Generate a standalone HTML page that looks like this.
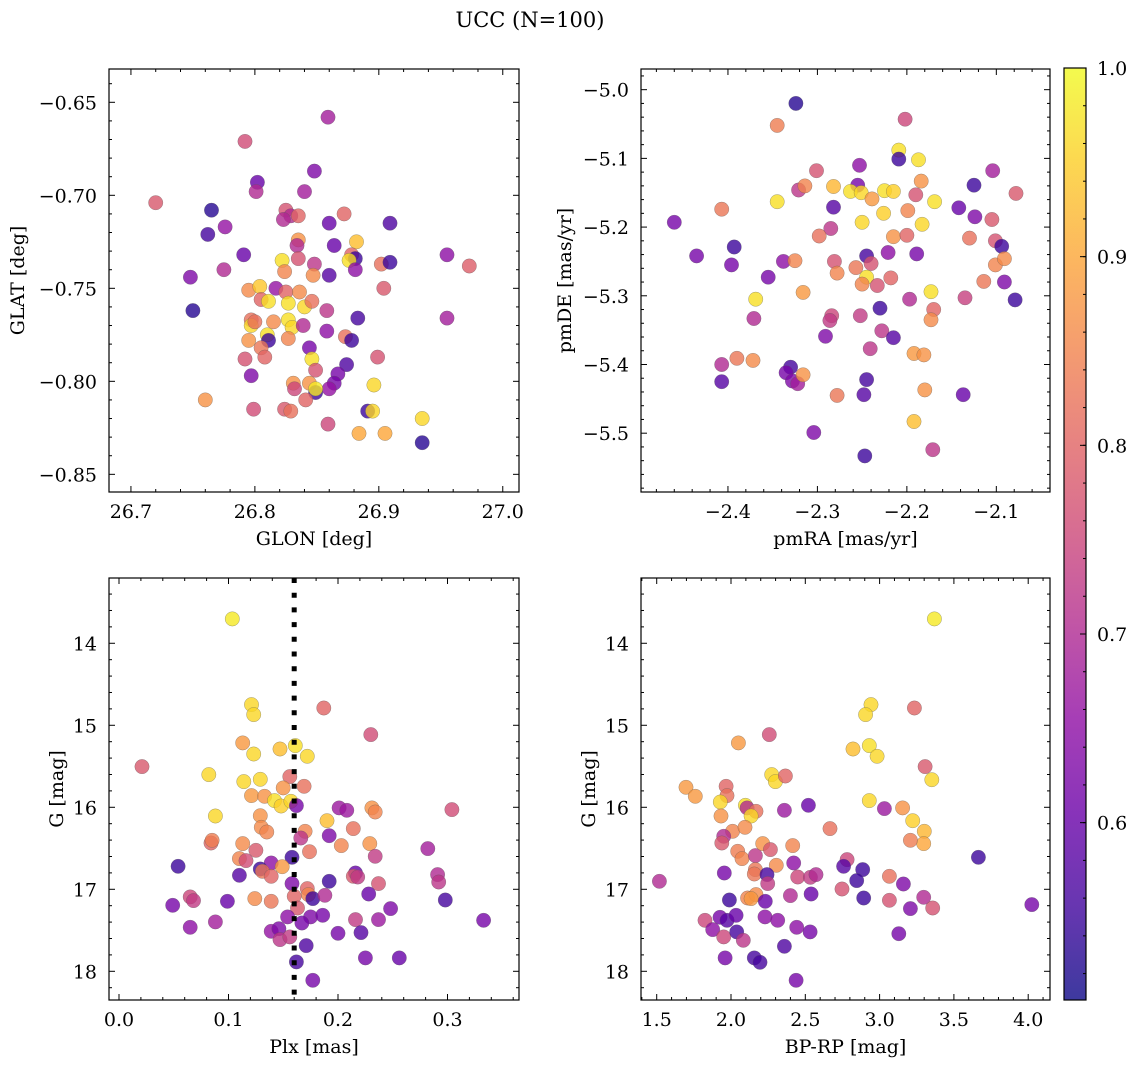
<!DOCTYPE html>
<html><head><meta charset="utf-8"><style>
body{margin:0;background:#fff;}
svg{display:block;font-family:"DejaVu Serif","Liberation Serif",serif;font-stretch:normal;}
</style></head><body>
<svg id="fig" width="1136" height="1068" viewBox="0 0 1136 1068" xmlns="http://www.w3.org/2000/svg">
<rect width="1136" height="1068" fill="#fff"/>
<text x="530" y="27" font-size="21" text-anchor="middle">UCC (N=100)</text>
</svg>
<script>
// ---- Panel 1: GLON vs GLAT ----
const glon=[26.859,26.792,26.848,26.802,26.801,26.840,26.720,26.765,26.825,26.829,26.835,26.823,26.872,26.776,26.860,26.909,26.762,26.835,26.834,26.864,26.882,26.791,26.835,26.878,26.881,26.822,26.876,26.955,26.973,26.748,26.775,26.824,26.848,26.847,26.860,26.881,26.902,26.909,26.904,26.795,26.804,26.817,26.825,26.836,26.805,26.811,26.827,26.840,26.846,26.750,26.858,26.883,26.955,26.797,26.797,26.800,26.815,26.827,26.830,26.839,26.810,26.811,26.795,26.805,26.827,26.858,26.873,26.878,26.844,26.808,26.792,26.846,26.874,26.899,26.867,26.849,26.797,26.864,26.860,26.831,26.832,26.844,26.849,26.849,26.841,26.760,26.896,26.799,26.824,26.829,26.859,26.891,26.895,26.884,26.905,26.935,26.935];
const glat=[-0.658,-0.671,-0.687,-0.693,-0.698,-0.698,-0.704,-0.708,-0.708,-0.711,-0.711,-0.713,-0.710,-0.717,-0.715,-0.715,-0.721,-0.724,-0.727,-0.727,-0.725,-0.732,-0.734,-0.732,-0.734,-0.735,-0.735,-0.732,-0.738,-0.744,-0.740,-0.741,-0.737,-0.743,-0.743,-0.740,-0.737,-0.736,-0.750,-0.751,-0.749,-0.750,-0.752,-0.752,-0.756,-0.757,-0.758,-0.760,-0.757,-0.762,-0.762,-0.766,-0.766,-0.767,-0.770,-0.768,-0.768,-0.767,-0.771,-0.770,-0.775,-0.778,-0.778,-0.782,-0.777,-0.773,-0.776,-0.778,-0.782,-0.787,-0.788,-0.788,-0.791,-0.787,-0.796,-0.794,-0.797,-0.801,-0.804,-0.801,-0.804,-0.801,-0.806,-0.804,-0.810,-0.810,-0.802,-0.815,-0.815,-0.816,-0.823,-0.816,-0.816,-0.828,-0.828,-0.820,-0.833];
const probPos=[.68,.76,.63,.60,.70,.68,.78,.53,.77,.70,.80,.70,.80,.66,.60,.57,.56,.87,.70,.60,.93,.60,.77,.80,.55,.97,.97,.65,.79,.63,.70,.85,.72,.86,.58,.65,.82,.55,.78,.86,.94,.66,.80,.86,.80,.97,.97,.96,.82,.53,.72,.56,.68,.82,.96,.82,.86,.97,.96,.70,.97,.55,.87,.83,.85,.65,.82,.55,.62,.80,.77,.97,.57,.77,.62,.77,.63,.62,.66,.87,.75,.87,.55,.98,.80,.87,.96,.76,.78,.82,.75,.55,.96,.90,.90,.96,.53];
// ---- Panel 2: pmRA vs pmDE ----
const pmra=[-2.324,-2.345,-2.202,-2.209,-2.209,-2.187,-2.253,-2.301,-2.104,-2.125,-2.184,-2.321,-2.314,-2.282,-2.255,-2.263,-2.251,-2.225,-2.215,-2.239,-2.190,-2.078,-2.345,-2.169,-2.407,-2.282,-2.142,-2.199,-2.226,-2.124,-2.460,-2.250,-2.183,-2.105,-2.285,-2.298,-2.215,-2.200,-2.130,-2.101,-2.094,-2.393,-2.435,-2.245,-2.221,-2.189,-2.396,-2.338,-2.325,-2.281,-2.240,-2.257,-2.278,-2.101,-2.091,-2.355,-2.245,-2.250,-2.233,-2.218,-2.114,-2.091,-2.369,-2.316,-2.173,-2.197,-2.135,-2.079,-2.230,-2.170,-2.173,-2.371,-2.284,-2.286,-2.252,-2.228,-2.215,-2.291,-2.241,-2.192,-2.181,-2.407,-2.390,-2.372,-2.330,-2.335,-2.328,-2.322,-2.316,-2.407,-2.245,-2.248,-2.278,-2.180,-2.137,-2.192,-2.304,-2.247,-2.171];
const pmde=[-5.020,-5.052,-5.043,-5.088,-5.101,-5.102,-5.110,-5.118,-5.118,-5.139,-5.133,-5.146,-5.140,-5.141,-5.139,-5.148,-5.150,-5.147,-5.148,-5.159,-5.153,-5.151,-5.163,-5.163,-5.174,-5.171,-5.172,-5.176,-5.180,-5.185,-5.193,-5.193,-5.196,-5.189,-5.202,-5.213,-5.214,-5.212,-5.216,-5.220,-5.228,-5.229,-5.242,-5.242,-5.237,-5.239,-5.255,-5.250,-5.249,-5.250,-5.253,-5.259,-5.267,-5.255,-5.246,-5.273,-5.273,-5.283,-5.285,-5.274,-5.279,-5.280,-5.305,-5.295,-5.294,-5.305,-5.303,-5.306,-5.318,-5.320,-5.335,-5.333,-5.329,-5.336,-5.329,-5.351,-5.361,-5.359,-5.377,-5.384,-5.386,-5.400,-5.391,-5.394,-5.404,-5.412,-5.424,-5.428,-5.415,-5.425,-5.422,-5.444,-5.445,-5.437,-5.444,-5.483,-5.499,-5.533,-5.524];
const probPm=[.53,.84,.75,.97,.55,.97,.65,.77,.68,.55,.87,.72,.85,.92,.62,.97,.96,.97,.95,.88,.77,.78,.97,.97,.83,.58,.60,.85,.95,.63,.62,.96,.96,.78,.72,.82,.87,.80,.82,.77,.55,.55,.62,.56,.65,.62,.62,.65,.85,.77,.77,.83,.85,.85,.86,.62,.97,.85,.77,.80,.83,.63,.97,.88,.97,.70,.74,.55,.55,.80,.86,.70,.75,.73,.73,.72,.58,.63,.72,.88,.87,.70,.83,.86,.56,.62,.63,.68,.87,.58,.56,.58,.83,.87,.60,.93,.63,.55,.72];
// ---- Panel 3: Plx vs G ----
const plx=[0.1035,0.121,0.123,0.187,0.230,0.113,0.147,0.161,0.123,0.172,0.021,0.082,0.156,0.114,0.129,0.150,0.169,0.121,0.133,0.142,0.148,0.157,0.162,0.201,0.208,0.231,0.234,0.304,0.088,0.129,0.190,0.130,0.135,0.170,0.166,0.214,0.192,0.084,0.085,0.113,0.203,0.229,0.174,0.125,0.234,0.282,0.110,0.116,0.139,0.158,0.054,0.149,0.129,0.131,0.139,0.110,0.216,0.214,0.218,0.291,0.292,0.192,0.158,0.237,0.172,0.173,0.177,0.188,0.228,0.065,0.068,0.124,0.139,0.160,0.049,0.099,0.163,0.298,0.248,0.154,0.175,0.186,0.167,0.216,0.237,0.333,0.088,0.065,0.139,0.146,0.147,0.156,0.200,0.221,0.171,0.162,0.225,0.256,0.177];
const gPlx=[13.703,14.748,14.870,14.789,15.114,15.215,15.289,15.248,15.350,15.378,15.504,15.602,15.626,15.687,15.659,15.764,15.744,15.858,15.866,15.919,15.984,15.927,15.980,16.008,16.037,16.008,16.057,16.028,16.106,16.102,16.163,16.244,16.301,16.293,16.374,16.260,16.346,16.435,16.402,16.443,16.467,16.443,16.541,16.524,16.598,16.504,16.626,16.650,16.679,16.610,16.720,16.724,16.752,16.780,16.841,16.829,16.801,16.841,16.850,16.821,16.911,16.902,16.931,16.931,16.992,17.065,17.114,17.073,17.057,17.093,17.138,17.114,17.146,17.085,17.195,17.146,17.228,17.130,17.236,17.337,17.337,17.317,17.411,17.370,17.370,17.378,17.398,17.463,17.512,17.480,17.614,17.581,17.537,17.528,17.687,17.886,17.837,17.837,18.110];
const probPlx=[.98,.96,.96,.80,.76,.88,.93,.97,.96,.96,.78,.96,.80,.96,.96,.87,.82,.88,.87,.97,.95,.96,.62,.67,.67,.87,.85,.76,.96,.87,.93,.86,.85,.85,.72,.82,.63,.80,.84,.86,.85,.87,.82,.78,.73,.68,.85,.76,.65,.55,.55,.88,.55,.83,.80,.58,.60,.78,.73,.70,.72,.55,.63,.77,.80,.85,.55,.70,.60,.75,.73,.86,.83,.80,.62,.60,.78,.56,.63,.65,.63,.62,.62,.73,.67,.62,.68,.65,.66,.63,.72,.73,.62,.58,.57,.56,.62,.60,.62];
const plxLine=[0.16];
// ---- Panel 4: BP-RP vs G ----
const bprp=[3.369,2.942,2.906,3.234,2.258,2.050,2.821,2.931,2.983,3.306,3.351,1.697,1.760,1.967,1.973,1.928,2.274,2.299,2.366,2.097,2.108,2.168,2.135,1.933,2.359,2.521,2.931,3.032,3.155,3.223,3.301,3.297,3.207,2.666,2.011,2.094,1.951,1.938,2.045,2.074,2.164,2.213,2.265,2.415,2.305,2.422,2.781,2.758,2.886,2.846,3.665,1.518,1.955,2.164,2.157,2.242,2.247,2.449,2.534,2.572,3.066,3.160,2.747,2.112,2.168,2.135,1.989,2.231,2.400,2.539,2.893,3.066,3.297,3.357,3.207,4.024,1.825,1.926,1.973,2.034,1.877,1.951,2.038,2.083,2.229,2.314,2.442,2.532,3.129,2.359,1.960,2.157,2.195,2.438];
const gCmd=[13.703,14.748,14.870,14.789,15.114,15.215,15.289,15.248,15.378,15.504,15.663,15.756,15.866,15.744,15.858,15.935,15.602,15.687,15.618,15.976,16.008,16.049,16.106,16.106,16.037,15.976,15.919,16.016,16.008,16.163,16.293,16.443,16.402,16.260,16.293,16.244,16.354,16.435,16.537,16.626,16.589,16.443,16.516,16.467,16.707,16.679,16.638,16.720,16.760,16.894,16.610,16.902,16.801,16.760,16.813,16.821,16.931,16.850,16.854,16.821,16.841,16.935,16.996,17.106,17.065,17.114,17.130,17.146,17.077,17.057,17.106,17.134,17.098,17.228,17.236,17.187,17.378,17.341,17.378,17.317,17.492,17.581,17.520,17.622,17.337,17.378,17.463,17.520,17.541,17.695,17.837,17.837,17.890,18.110];
const probCmd=[.98,.96,.96,.80,.76,.88,.93,.97,.96,.78,.96,.88,.88,.80,.82,.96,.96,.96,.80,.97,.70,.82,.96,.87,.67,.60,.96,.67,.87,.95,.92,.90,.84,.82,.85,.86,.70,.78,.84,.85,.72,.87,.78,.85,.86,.65,.75,.58,.55,.55,.55,.70,.62,.83,.83,.56,.73,.75,.73,.70,.82,.63,.77,.85,.86,.88,.55,.60,.70,.60,.55,.77,.70,.77,.63,.62,.75,.62,.58,.60,.65,.75,.56,.72,.65,.65,.65,.62,.62,.57,.62,.56,.56,.62];
// ---- Colorbar ----
const cbTicks=[0.6,0.7,0.8,0.9,1.0];
const cbLabels=["0.6","0.7","0.8","0.9","1.0"];

const NS="http://www.w3.org/2000/svg";
const svg=document.getElementById('fig');
const VMIN=0.506,VMAX=1.0;
const FS=19;
const stops=["#0d0887","#41049d","#6a00a8","#8f0da4","#b12a90","#cc4778","#e16462","#f2844b","#fca636","#fcce25","#f0f921"];
function hex(h){return [1,3,5].map(i=>parseInt(h.substr(i,2),16));}
function plasma(t){t=Math.max(0,Math.min(1,t));const s=t*10,i=Math.min(9,Math.floor(s)),f=s-i;const a=hex(stops[i]),b=hex(stops[i+1]);return 'rgb('+a.map((v,k)=>Math.round(v+(b[k]-v)*f)).join(',')+')';}
function col(p){return plasma((p-VMIN)/(VMAX-VMIN));}
function mk(tag,attrs,parent){const e=document.createElementNS(NS,tag);for(const k in attrs)e.setAttribute(k,attrs[k]);(parent||svg).appendChild(e);return e;}
function fmt(v,d){const s=v.toFixed(d);return v<0?'\u2212'+s.slice(1):s;}

function panel(cfg){
  const {L,T,R,B,x0,x1,y0,y1,invY}=cfg;
  const g=mk('g',{});
  
  
  const sx=v=>L+(v-x0)/(x1-x0)*(R-L);
  const sy=v=>invY?T+(v-y0)/(y1-y0)*(B-T):B-(v-y0)/(y1-y0)*(B-T);
  const pts=mk('g',{},g);
  
  
  for(let i=0;i<cfg.xs.length;i++){
    const c=mk('circle',{cx:sx(cfg.xs[i]).toFixed(1),cy:sy(cfg.ys[i]).toFixed(1),r:7.2,fill:col(cfg.ps[i]),'fill-opacity':0.8,stroke:'rgba(90,90,90,0.55)','stroke-width':0.5},pts);
    
    
  }
  if(cfg.vline){
    for(const v of cfg.vline){
      const ln=mk('line',{x1:sx(v),x2:sx(v),y1:T,y2:B,stroke:'#000','stroke-width':5,'stroke-dasharray':'5 9.7'},g);
      
      
    }
  }
  const tk=mk('g',{stroke:'#000','stroke-width':1},g);
  
  
  const labs=mk('g',{'font-size':FS},g);
  
  
  const eps=1e-9;
  const xs0=Math.ceil((x0-eps)/cfg.xmin)*cfg.xmin;
  for(let v=xs0;v<=x1+eps;v+=cfg.xmin){
    const n=Math.round(v/cfg.xmaj*1e6)/1e6;const major=Math.abs(n-Math.round(n))<1e-4;
    const len=major?6:3,x=sx(v);
    mk('line',{x1:x,x2:x,y1:B,y2:B-len},tk);mk('line',{x1:x,x2:x,y1:T,y2:T+len},tk);
    if(major){const t=mk('text',{x:x,y:B+26,'text-anchor':'middle'},labs);t.textContent=fmt(v,cfg.xd);}
  }
  const ys0=Math.ceil((Math.min(y0,y1)-eps)/cfg.ymin)*cfg.ymin;
  for(let v=ys0;v<=Math.max(y0,y1)+eps;v+=cfg.ymin){
    const n=Math.round(v/cfg.ymaj*1e6)/1e6;const major=Math.abs(n-Math.round(n))<1e-4;
    const len=major?6:3,y=sy(v);
    mk('line',{x1:L,x2:L+len,y1:y,y2:y},tk);mk('line',{x1:R,x2:R-len,y1:y,y2:y},tk);
    if(major){const t=mk('text',{x:L-12,y:y+7,'text-anchor':'end'},labs);t.textContent=fmt(v,cfg.yd);}
  }
  const fr=mk('rect',{x:L,y:T,width:R-L,height:B-T,fill:'none',stroke:'#000','stroke-width':1.2},g);
  
  
  const xl=mk('text',{x:(L+R)/2,y:B+53,'text-anchor':'middle','font-size':FS},g);
  xl.textContent=cfg.xlabel;
  
  
  const yx=cfg.ylx,yc=(T+B)/2;
  const yl=mk('text',{x:yx,y:yc,'text-anchor':'middle','font-size':FS,transform:'rotate(-90 '+yx+' '+yc+')'},g);
  yl.textContent=cfg.ylabel;
  
  
}

panel({name:'glon-glat-panel',L:109,T:69,R:519,B:492,x0:26.6823,x1:27.0131,y0:-0.8595,y1:-0.6321,xs:glon,ys:glat,ps:probPos,xmaj:0.1,xmin:0.02,ymaj:0.05,ymin:0.01,xd:1,yd:2,xlabel:'GLON [deg]',ylabel:'GLAT [deg]',ylx:24});
panel({name:'proper-motion-panel',L:641,T:69,R:1050,B:492,x0:-2.4972,x1:-2.04,y0:-5.5856,y1:-4.9699,xs:pmra,ys:pmde,ps:probPm,xmaj:0.1,xmin:0.02,ymaj:0.1,ymin:0.02,xd:1,yd:1,xlabel:'pmRA [mas/yr]',ylabel:'pmDE [mas/yr]',ylx:571});
panel({name:'parallax-panel',L:109,T:578,R:519,B:1000,x0:-0.00913,x1:0.3653,y0:13.204,y1:18.350,invY:true,xs:plx,ys:gPlx,ps:probPlx,vline:plxLine,xmaj:0.1,xmin:0.02,ymaj:1,ymin:0.2,xd:1,yd:0,xlabel:'Plx [mas]',ylabel:'G [mag]',ylx:63});
panel({name:'cmd-panel',L:641,T:578,R:1050,B:1000,x0:1.3943,x1:4.1467,y0:13.204,y1:18.350,invY:true,xs:bprp,ys:gCmd,ps:probCmd,xmaj:0.5,xmin:0.1,ymaj:1,ymin:0.2,xd:1,yd:0,xlabel:'BP-RP [mag]',ylabel:'G [mag]',ylx:595});

(function(){
  const L=1064,R=1086,T=68,B=1000;
  const g=mk('g',{});
  
  
  const defs=mk('defs',{},g);
  const lg=mk('linearGradient',{id:'cbg',x1:0,y1:1,x2:0,y2:0},defs);
  for(let i=0;i<=20;i++){mk('stop',{offset:(i/20),'stop-color':plasma(i/20),'stop-opacity':0.8},lg);}
  mk('rect',{x:L,y:T,width:R-L,height:B-T,fill:'url(#cbg)'},g);
  const sy=v=>B-(v-VMIN)/(VMAX-VMIN)*(B-T);
  for(let v=0.52;v<=1.0001;v+=0.02){const y=sy(v);mk('line',{x1:R,x2:R-3,y1:y,y2:y,stroke:'#000'},g);}
  cbTicks.forEach((v,i)=>{const y=sy(v);mk('line',{x1:R,x2:R-6,y1:y,y2:y,stroke:'#000'},g);
    const t=mk('text',{x:R+11,y:y+7,'font-size':FS},g);t.textContent=cbLabels[i];
    
    });
  mk('rect',{x:L,y:T,width:R-L,height:B-T,fill:'none',stroke:'#000','stroke-width':1.2},g);
})();
</script>
</body></html>
